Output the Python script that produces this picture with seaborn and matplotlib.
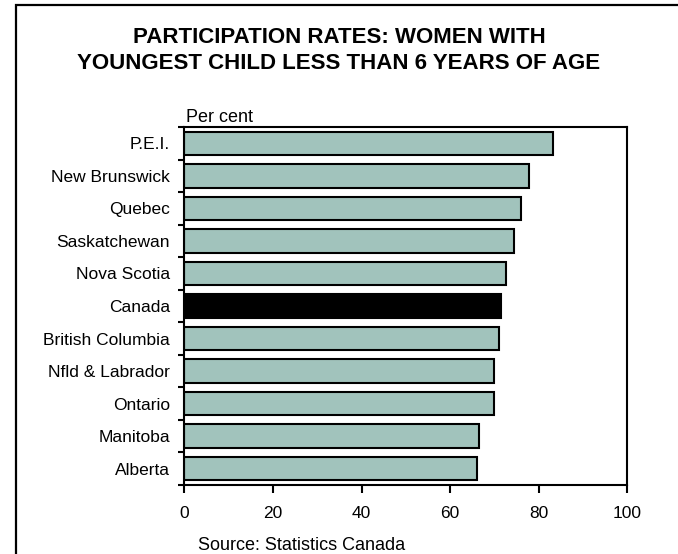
import matplotlib
matplotlib.use("Agg")
import matplotlib.pyplot as plt
from matplotlib.patches import Rectangle
from matplotlib.ticker import FixedLocator, NullFormatter
import seaborn as sns
import pandas as pd

provinces = ["P.E.I.", "New Brunswick", "Quebec", "Saskatchewan", "Nova Scotia",
             "Canada", "British Columbia", "Nfld & Labrador", "Ontario",
             "Manitoba", "Alberta"]
rates = [83.2, 77.8, 76.1, 74.4, 72.6, 71.4, 71.1, 69.9, 69.8, 66.5, 66.0]
x_ticks = [0, 20, 40, 60, 80, 100]
title = "PARTICIPATION RATES: WOMEN WITH\nYOUNGEST CHILD LESS THAN 6 YEARS OF AGE"
unit_label = "Per cent"
source = "Source: Statistics Canada"

bar_color = "#a1c3bc"
highlight = "Canada"

sns.set_theme(style="white")
plt.rcParams["font.family"] = ["Liberation Sans", "DejaVu Sans"]
plt.rcParams["text.color"] = "black"

df = pd.DataFrame({"province": provinces, "rate": rates})
palette = {p: ("#000000" if p == highlight else bar_color) for p in provinces}

fig = plt.figure(figsize=(6.78, 5.54), dpi=100)
ax = fig.add_axes([184.5 / 678, 1 - 485 / 554, (627.3 - 184.5) / 678, (485 - 127) / 554])

sns.barplot(data=df, x="rate", y="province", hue="province", palette=palette,
            legend=False, orient="h", width=0.72, saturation=1,
            edgecolor="black", linewidth=1.5, ax=ax)

ax.set_xlim(0, 100)
ax.set_ylim(len(provinces) - 0.5, -0.5)
ax.set_xticks(x_ticks)
ax.set_xlabel("")
ax.set_ylabel("")

# category labels sit between boundary ticks
ax.yaxis.set_minor_locator(FixedLocator([i - 0.5 for i in range(len(provinces) + 1)]))
ax.yaxis.set_minor_formatter(NullFormatter())
ax.tick_params(axis="y", which="major", length=0, pad=10.5, labelsize=12.5, colors="black")
ax.tick_params(axis="y", which="minor", left=True, length=4, width=1.5, color="black")
ax.tick_params(axis="x", which="major", bottom=True, length=6, width=1.5, pad=9,
               labelsize=12.5, colors="black")

for side in ["left", "right", "top", "bottom"]:
    ax.spines[side].set_visible(True)
    ax.spines[side].set_color("black")
    ax.spines[side].set_linewidth(1.5)

fig.text(339 / 678, 1 - 50.5 / 554, title, ha="center", va="center",
         fontsize=16, fontweight="bold", linespacing=1.3, color="black")
fig.text(186 / 678, 1 - 118 / 554, unit_label, ha="left", va="center",
         fontsize=13, color="black")
fig.text(198 / 678, 1 - 545 / 554, source, ha="left", va="center",
         fontsize=13, color="black")

# outer frame around the chart
fig.patches.append(Rectangle((16 / 678, -0.2), 1.2, 1.2 - 5.5 / 554,
                             transform=fig.transFigure, fill=False,
                             edgecolor="black", linewidth=1.6, clip_on=False))

fig.savefig("out.png", dpi=100)
